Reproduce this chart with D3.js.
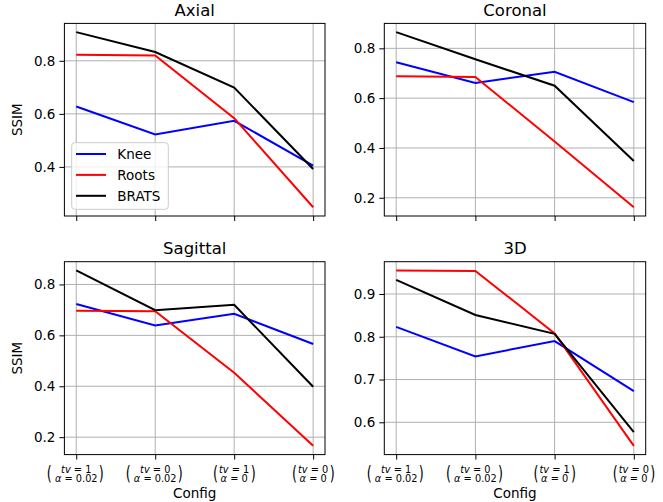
<!DOCTYPE html>
<html>
<head>
<meta charset="utf-8">
<script src="https://cdn.jsdelivr.net/npm/d3@7"></script>
<style>
  body { margin: 0; background: #fff; }
  svg { font-family: "DejaVu Sans", sans-serif; }
</style>
</head>
<body>
<div id="chart"></div>
<script>
// data
var panelTitles = ["Axial", "Coronal", "Sagittal", "3D"];
var seriesNames = ["Knee", "Roots", "BRATS"];
var seriesColors = ["#0000ff", "#ff0000", "#000000"];
var tvLabels = ["1", "0", "1", "0"];
var alphaLabels = ["0.02", "0.02", "0", "0"];

var kneeValues = [
    [0.628, 0.522, 0.574, 0.405],
    [0.744, 0.661, 0.706, 0.584],
    [0.723, 0.639, 0.685, 0.566],
    [0.823, 0.754, 0.790, 0.673]
];
var rootsValues = [
    [0.823, 0.820, 0.584, 0.248],
    [0.688, 0.685, 0.426, 0.162],
    [0.697, 0.695, 0.453, 0.166],
    [0.955, 0.954, 0.808, 0.545]
];
var bratsValues = [
    [0.908, 0.833, 0.699, 0.392],
    [0.865, 0.756, 0.650, 0.348],
    [0.855, 0.699, 0.720, 0.398],
    [0.933, 0.851, 0.807, 0.577]
];
var yTickValues = [
    [0.4, 0.6, 0.8],
    [0.2, 0.4, 0.6, 0.8],
    [0.2, 0.4, 0.6, 0.8],
    [0.6, 0.7, 0.8, 0.9]
];

var width = 663, height = 502;
var svg = d3.select("#chart").append("svg")
    .attr("width", width)
    .attr("height", height);

// panel boxes
var cols = [[64.4, 325], [384.3, 645.7]];
var rows = [[23.4, 216], [261.7, 454.6]];

var allSeries = [kneeValues, rootsValues, bratsValues];

panelTitles.forEach(function(title, p) {
    var c = cols[p % 2], r = rows[Math.floor(p / 2)];
    var series = allSeries.map(function(s) { return s[p]; });

    var x = d3.scaleLinear().domain([-0.15, 3.15]).range([c[0], c[1]]);
    var ext = d3.extent([].concat.apply([], series));
    var pad = (ext[1] - ext[0]) * 0.05;
    var y = d3.scaleLinear().domain([ext[0] - pad, ext[1] + pad]).range([r[1], r[0]]);

    var g = svg.append("g");

    // grid
    g.selectAll(".gx").data([0, 1, 2, 3]).enter().append("line")
        .attr("x1", function(d) { return x(d); })
        .attr("x2", function(d) { return x(d); })
        .attr("y1", r[0]).attr("y2", r[1])
        .attr("stroke", "#b0b0b0").attr("stroke-width", 1);
    g.selectAll(".gy").data(yTickValues[p]).enter().append("line")
        .attr("y1", function(d) { return y(d); })
        .attr("y2", function(d) { return y(d); })
        .attr("x1", c[0]).attr("x2", c[1])
        .attr("stroke", "#b0b0b0").attr("stroke-width", 1);

    // lines
    var line = d3.line()
        .x(function(d, i) { return x(i); })
        .y(function(d) { return y(d); });
    series.forEach(function(vals, k) {
        g.append("path")
            .attr("d", line(vals))
            .attr("fill", "none")
            .attr("stroke", seriesColors[k])
            .attr("stroke-width", 2);
    });

    // axes
    var yAxis = d3.axisLeft(y).tickValues(yTickValues[p]).tickSize(5).tickPadding(4)
        .tickFormat(d3.format(".1f"));
    var ya = g.append("g").attr("transform", "translate(" + c[0] + ",0)").call(yAxis);
    ya.select(".domain").remove();
    ya.selectAll("text").style("font-size", "13.5px").attr("fill", "#000")
        .style("font-family", "DejaVu Sans");

    var xAxis = d3.axisBottom(x).tickValues([0, 1, 2, 3]).tickSize(5).tickFormat("");
    var xa = g.append("g").attr("transform", "translate(0," + r[1] + ")").call(xAxis);
    xa.select(".domain").remove();

    g.append("rect")
        .attr("x", c[0]).attr("y", r[0])
        .attr("width", c[1] - c[0]).attr("height", r[1] - r[0])
        .attr("fill", "none").attr("stroke", "#000").attr("stroke-width", 1);

    // title
    g.append("text")
        .attr("x", (c[0] + c[1]) / 2).attr("y", r[0] - 7.5)
        .attr("text-anchor", "middle")
        .style("font-size", "16.5px")
        .text(title);

    if (p % 2 === 0) {
        g.append("text")
            .attr("transform", "translate(22," + ((r[0] + r[1]) / 2) + ") rotate(-90)")
            .attr("text-anchor", "middle")
            .style("font-size", "13.5px")
            .text("SSIM");
    }

    // bottom tick labels
    if (p >= 2) {
        [0, 1, 2, 3].forEach(function(i) {
            var cx = x(i), ty = r[1] + 8;
            var lab = g.append("g").attr("transform", "translate(" + cx + "," + ty + ")");
            lab.append("text").attr("x", 0).attr("y", 10)
                .attr("text-anchor", "middle").style("font-size", "9.8px")
                .html('<tspan font-style="italic">tv</tspan> = ' + tvLabels[i]);
            lab.append("text").attr("x", 0).attr("y", 19.6)
                .attr("text-anchor", "middle").style("font-size", "9.8px")
                .html('<tspan font-style="italic">α</tspan> = ' + alphaLabels[i]);
            var hl = alphaLabels[i] === "0" ? 18.6 : 27, hr = alphaLabels[i] === "0" ? 19 : 25;
            [[-hl, "("], [hr, ")"]].forEach(function(pp) {
                lab.append("text")
                    .attr("transform", "translate(" + pp[0] + ",17) scale(0.85,1.3)")
                    .attr("text-anchor", "middle")
                    .style("font-size", "15px")
                    .text(pp[1]);
            });
        });
        g.append("text")
            .attr("x", (c[0] + c[1]) / 2).attr("y", 498)
            .attr("text-anchor", "middle")
            .style("font-size", "13.5px")
            .text("Config");
    }

    // legend
    if (p === 0) {
        var lg = g.append("g");
        lg.append("rect")
            .attr("x", 71.7).attr("y", 142.7).attr("width", 96.6).attr("height", 66.6)
            .attr("rx", 3)
            .attr("fill", "#fff").attr("fill-opacity", 0.8)
            .attr("stroke", "#cccccc").attr("stroke-width", 1);
        seriesNames.forEach(function(name, k) {
            var ly = 154 + k * 20.9;
            lg.append("line")
                .attr("x1", 76).attr("x2", 106).attr("y1", ly).attr("y2", ly)
                .attr("stroke", seriesColors[k]).attr("stroke-width", 2);
            lg.append("text")
                .attr("x", 117.3).attr("y", ly + 4.8)
                .style("font-size", "13.5px")
                .text(name);
        });
    }
});
</script>
</body>
</html>
